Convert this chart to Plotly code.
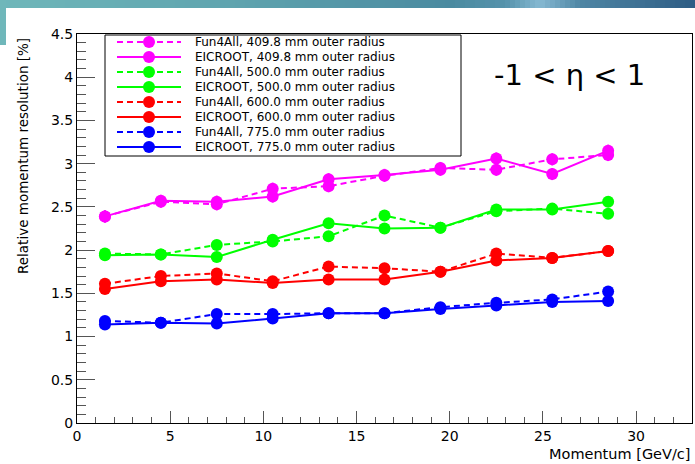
import plotly.graph_objects as go

# ---- data -------------------------------------------------------------
momentum = [1.5, 4.5, 7.5, 10.5, 13.5, 16.5, 19.5, 22.5, 25.5, 28.5]

fun4all_409 = [2.39, 2.56, 2.53, 2.71, 2.74, 2.86, 2.95, 2.93, 3.05, 3.10]
eicroot_409 = [2.39, 2.57, 2.56, 2.62, 2.82, 2.87, 2.93, 3.06, 2.88, 3.15]
fun4all_500 = [1.96, 1.95, 2.06, 2.10, 2.16, 2.40, 2.26, 2.45, 2.48, 2.42]
eicroot_500 = [1.94, 1.95, 1.92, 2.12, 2.31, 2.25, 2.26, 2.47, 2.47, 2.56]
fun4all_600 = [1.61, 1.70, 1.73, 1.64, 1.81, 1.79, 1.75, 1.96, 1.91, 1.99]
eicroot_600 = [1.55, 1.64, 1.66, 1.62, 1.66, 1.66, 1.75, 1.88, 1.91, 1.99]
fun4all_775 = [1.18, 1.16, 1.26, 1.26, 1.27, 1.27, 1.34, 1.39, 1.43, 1.52]
eicroot_775 = [1.14, 1.16, 1.15, 1.21, 1.27, 1.27, 1.32, 1.36, 1.40, 1.41]

err_409 = [0.07, 0.07, 0.07, 0.07, 0.07, 0.07, 0.07, 0.07, 0.07, 0.07]
err_500 = [0.06, 0.06, 0.06, 0.06, 0.06, 0.06, 0.06, 0.06, 0.06, 0.06]
err_600 = [0.05, 0.05, 0.05, 0.05, 0.05, 0.05, 0.05, 0.05, 0.05, 0.05]
err_775 = [0.05, 0.05, 0.05, 0.05, 0.05, 0.05, 0.05, 0.05, 0.05, 0.05]

legend_labels = [
    "Fun4All, 409.8 mm outer radius",
    "EICROOT, 409.8 mm outer radius",
    "Fun4All, 500.0 mm outer radius",
    "EICROOT, 500.0 mm outer radius",
    "Fun4All, 600.0 mm outer radius",
    "EICROOT, 600.0 mm outer radius",
    "Fun4All, 775.0 mm outer radius",
    "EICROOT, 775.0 mm outer radius",
]

x_ticks = [0, 5, 10, 15, 20, 25, 30]
y_ticks = [0, 0.5, 1, 1.5, 2, 2.5, 3, 3.5, 4, 4.5]

MAGENTA, GREEN, RED, BLUE = "#ff00ff", "#00ff00", "#ff0000", "#0000ff"
DASH = "6px,4px"

series = [
    (legend_labels[0], fun4all_409, err_409, MAGENTA, DASH),
    (legend_labels[1], eicroot_409, err_409, MAGENTA, "solid"),
    (legend_labels[2], fun4all_500, err_500, GREEN, DASH),
    (legend_labels[3], eicroot_500, err_500, GREEN, "solid"),
    (legend_labels[4], fun4all_600, err_600, RED, DASH),
    (legend_labels[5], eicroot_600, err_600, RED, "solid"),
    (legend_labels[6], fun4all_775, err_775, BLUE, DASH),
    (legend_labels[7], eicroot_775, err_775, BLUE, "solid"),
]

# ---- page geometry (pixels) ------------------------------------------
W, H = 695, 464
L, R, T, B = 77, 692, 34, 423          # plot frame edges


def px(xp):
    return (xp - L) / (R - L)


def py(yp):
    return (B - yp) / (B - T)


FONT = "DejaVu Sans, Liberation Sans, Arial, sans-serif"

fig = go.Figure()

for name, vals, errs, color, dash in series:
    fig.add_trace(go.Scatter(
        x=momentum, y=vals, name=name, mode="lines+markers",
        line=dict(color=color, width=2, dash=dash),
        marker=dict(color=color, size=12, symbol="circle"),
        error_y=dict(type="data", array=errs, visible=True,
                     color=color, thickness=2, width=0),
        showlegend=False,
    ))

shapes = []

# slide header strip with a soft colour gradient
stops = [(0, (111, 183, 186)), (240, (94, 163, 174)), (450, (74, 138, 160)),
         (505, (85, 146, 171)), (540, (134, 185, 210)), (580, (79, 134, 164)),
         (695, (45, 92, 132))]
step = 5
for x0 in range(0, W, step):
    xm = x0 + step / 2
    for (a, ca), (b, cb) in zip(stops[:-1], stops[1:]):
        if a <= xm <= b:
            t = (xm - a) / (b - a)
            c = tuple(int(round(ca[i] + (cb[i] - ca[i]) * t)) for i in range(3))
            break
    shapes.append(dict(type="rect", xref="paper", yref="paper",
                       x0=px(x0), x1=px(x0 + step), y0=py(8), y1=py(0),
                       fillcolor="rgb(%d,%d,%d)" % c, line=dict(width=0),
                       layer="below"))
shapes.append(dict(type="rect", xref="paper", yref="paper",
                   x0=px(0), x1=px(6), y0=py(45), y1=py(0),
                   fillcolor="rgb(111,183,186)", line=dict(width=0),
                   layer="below"))

# legend box
shapes.append(dict(type="rect", xref="paper", yref="paper",
                   x0=px(105), x1=px(461), y0=py(156), y1=py(35),
                   fillcolor="white", line=dict(color="black", width=1)))

annotations = []
row0, row_step = 42, 15
for i, (name, vals, errs, color, dash) in enumerate(series):
    yc = row0 + i * row_step
    shapes.append(dict(type="line", xref="paper", yref="paper",
                       x0=px(117), x1=px(181), y0=py(yc), y1=py(yc),
                       line=dict(color=color, width=2, dash=dash)))
    shapes.append(dict(type="circle", xref="paper", yref="paper",
                       x0=px(149 - 6), x1=px(149 + 6),
                       y0=py(yc + 6), y1=py(yc - 6),
                       fillcolor=color, line=dict(color=color, width=0)))
    annotations.append(dict(text=name, xref="paper", yref="paper",
                            x=px(193), y=py(yc), xanchor="left",
                            yanchor="middle", showarrow=False,
                            font=dict(family=FONT, size=12, color="black")))

# pseudorapidity range
annotations.append(dict(text="-1\u00a0<\u00a0η\u00a0<\u00a01",
                        xref="paper", yref="paper",
                        x=px(569), y=py(75), xanchor="center",
                        yanchor="middle", showarrow=False,
                        font=dict(family=FONT, size=29, color="black")))

# axis titles
annotations.append(dict(text="Momentum [GeV/c]", xref="paper", yref="paper",
                        x=1, y=py(454), xanchor="right", yanchor="middle",
                        showarrow=False,
                        font=dict(family=FONT, size=14.5, color="black")))
annotations.append(dict(text="Relative momentum resolution [%]",
                        xref="paper", yref="paper", textangle=-90,
                        x=px(23), y=py(36), xanchor="center", yanchor="top",
                        showarrow=False,
                        font=dict(family=FONT, size=13.5, color="black")))

axis_common = dict(
    showgrid=False, zeroline=False, showline=True, linecolor="black",
    linewidth=1, mirror=True, ticks="inside", tickcolor="#555555",
    tickwidth=1, tickfont=dict(family=FONT, size=14, color="black"),
)

fig.update_layout(
    width=W, height=H,
    margin=dict(l=L, r=W - R, t=T, b=H - B, pad=0),
    paper_bgcolor="white", plot_bgcolor="white",
    xaxis=dict(range=[0, 33], tickvals=x_ticks, ticklen=12,
               minor=dict(dtick=1, ticklen=6, ticks="inside",
                          tickcolor="#555555", tickwidth=1),
               **axis_common),
    yaxis=dict(range=[0, 4.5], tickvals=y_ticks, ticklen=18,
               minor=dict(dtick=0.1, ticklen=9, ticks="inside",
                          tickcolor="#555555", tickwidth=1),
               **axis_common),
    shapes=shapes,
    annotations=annotations,
    showlegend=False,
)

fig.write_html("out.html")
